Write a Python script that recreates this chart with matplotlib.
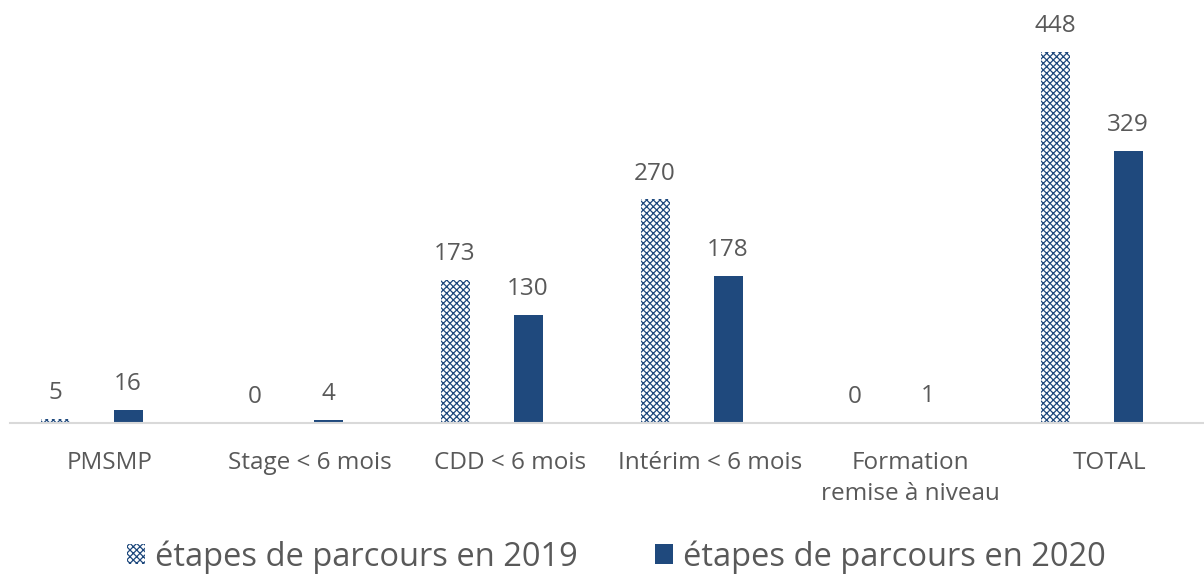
import matplotlib
matplotlib.use("Agg")
import matplotlib.pyplot as plt
import numpy as np

categories = ["PMSMP", "Stage < 6 mois", "CDD < 6 mois", "Intérim < 6 mois",
              "Formation\nremise à niveau", "TOTAL"]
vals_2019 = [5, 0, 173, 270, 0, 448]
vals_2020 = [16, 4, 130, 178, 1, 329]
series_names = ["étapes de parcours en 2019", "étapes de parcours en 2020"]

blue = "#1F497D"
grey = "#595959"
plt.rcParams['font.family'] = ['Open Sans', 'DejaVu Sans']
plt.rcParams['hatch.linewidth'] = 0.9

fig = plt.figure(figsize=(12.04, 5.81), dpi=100)
ax = fig.add_axes([10/1204, (581-423)/581, 1194/1204, 414/581])

x = np.arange(len(categories))
w = 0.145
b1 = ax.bar(x - 0.275, vals_2019, w, facecolor="white", edgecolor=blue,
            hatch="xxxxx", linewidth=0, label=series_names[0])
b2 = ax.bar(x + 0.09, vals_2020, w, color=blue, label=series_names[1])

for rects, vals in ((b1, vals_2019), (b2, vals_2020)):
    for r, v in zip(rects, vals):
        ax.annotate(str(v), (r.get_x() + r.get_width()/2, v),
                    xytext=(0, 10), textcoords="offset points",
                    ha="center", va="bottom", fontsize=17.5, color=grey)

ax.set_xlim(-0.5, 5.47)
ax.set_ylim(0, 500)
ax.set_xticks(x)
ax.set_xticklabels(categories, fontsize=17.5, color=grey, linespacing=1.4)
ax.tick_params(axis="x", length=0, pad=20)
ax.set_yticks([])
for s in ["top", "right", "left"]:
    ax.spines[s].set_visible(False)
ax.spines["bottom"].set_color("#D9D9D9")
ax.spines["bottom"].set_linewidth(1.5)

leg = fig.legend(handles=[b1, b2], labels=series_names, loc="center",
                 bbox_to_anchor=(0.512, 1 - 557/581), ncol=2, frameon=False,
                 fontsize=23.5, handlelength=0.55, handleheight=0.55,
                 handletextpad=0.3, columnspacing=2.36, labelcolor=grey)

fig.savefig("out.png", dpi=100)
